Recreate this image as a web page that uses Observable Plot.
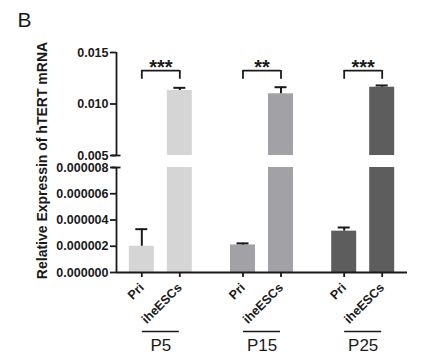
<!DOCTYPE html>
<html><head><meta charset="utf-8">
<script src="https://cdn.jsdelivr.net/npm/d3@7"></script>
<script src="https://cdn.jsdelivr.net/npm/@observablehq/plot@0.6"></script>
<style>body{margin:0;background:#fff}#chart svg{display:block}</style>
</head><body><div id="chart"></div>
<script>
// ---- data ----
const groups = ["P5", "P15", "P25"];
const types = ["Pri", "iheESCs"];
const priMean = [0.0000020, 0.0000021, 0.00000315];
const priErr = [0.0000013, 0.00000012, 0.00000028];
const iheMean = [0.01131, 0.01099, 0.01163];
const iheErr = [0.00026, 0.00064, 0.00017];
const significance = ["***", "**", "***"];
const lowerTicks = [0, 0.000002, 0.000004, 0.000006, 0.000008];
const upperTicks = [0.005, 0.010, 0.015];
const barColors = ["#d5d5d5", "#a2a2a6", "#5d5d5d"];
const yLabel = "Relative Expressin of hTERT mRNA";
const panelLetter = "B";

// axis break
const lowerTop = 0.000008, upperBottom = 0.005, upperTop = 0.015;
// bracket annotation levels (upper panel)
const bracketTop = 0.01325, bracketEnd = 0.0124;

// ---- layout ----
const W = 436, H = 362, mL = 116, mR = 29, mT = 52, mB = 90;
const pInner = 0.2, pOuter = 0.038;
const step = (W - mL - mR) / (groups.length - pInner + 2 * pOuter);
const bw = step * (1 - pInner);
const axisDx = -(step * pOuter + bw / 2);
const sub = 19, barW = 25, capW = 12;
const ink = "#1a1a1a";

const rows = [];
groups.forEach((g, i) => {
  rows.push({group: g, type: types[0], mean: priMean[i], err: priErr[i]});
  rows.push({group: g, type: types[1], mean: iheMean[i], err: iheErr[i]});
});
const grp = groups.map((g, i) => ({group: g, sig: significance[i]}));

function typeMarks(t, dx) {
  const d = rows.filter(r => r.type === t);
  const ins = (bw - barW) / 2, cins = (bw - capW) / 2;
  return [
    Plot.barY(d, {x: "group", y1: 0, y2: r => Math.min(r.mean, lowerTop), fill: "group", insetLeft: ins, insetRight: ins, dx}),
    Plot.barY(d.filter(r => r.mean > upperBottom), {x: "group", y1: upperBottom, y2: "mean", fill: "group", insetLeft: ins, insetRight: ins, dx}),
    Plot.ruleX(d, {x: "group", y1: "mean", y2: r => r.mean + r.err, stroke: ink, strokeWidth: 2, dx}),
    Plot.tickY(d, {x: "group", y: r => r.mean + r.err, stroke: ink, strokeWidth: 2, insetLeft: cins, insetRight: cins, dx}),
    Plot.axisX({ticks: groups, tickFormat: () => "", tickSize: 5, strokeWidth: 1.8, stroke: ink, dx, label: null}),
    Plot.text(groups, {x: g => g, y: () => 0, text: () => t, rotate: -45, textAnchor: "end", dx: dx, dy: 13, fontSize: 12.5, fontWeight: "bold", fill: ink})
  ];
}

const bIns = (bw - 2 * sub) / 2, uIns = (bw - 37) / 2, brkIns = (bw - 9) / 2;

const chart = Plot.plot({
  width: W, height: H,
  marginLeft: mL, marginRight: mR, marginTop: mT, marginBottom: mB,
  style: {fontFamily: "Liberation Sans, Arial, sans-serif", fontSize: "12.5px", color: ink, background: "#fff"},
  x: {type: "band", domain: groups, paddingInner: pInner, paddingOuter: pOuter, round: false, axis: null},
  y: {type: "linear", domain: [0, lowerTop, upperBottom, upperTop], range: [H - mB, 167, 155, mT], axis: null},
  color: {domain: groups, range: barColors},
  marks: [
    ...typeMarks(types[0], -sub),
    ...typeMarks(types[1], sub),
    // axes lines
    Plot.ruleY([0], {stroke: ink, strokeWidth: 1.8}),
    Plot.ruleX([groups[0]], {x: d => d, y1: 0, y2: lowerTop, stroke: ink, strokeWidth: 1.8, dx: axisDx}),
    Plot.ruleX([groups[0]], {x: d => d, y1: upperBottom, y2: upperTop, stroke: ink, strokeWidth: 1.8, dx: axisDx}),
    Plot.tickY([lowerTop, upperBottom], {x: () => groups[0], y: d => d, stroke: ink, strokeWidth: 1.8, insetLeft: brkIns, insetRight: brkIns, dx: axisDx}),
    Plot.axisY({ticks: lowerTicks, tickFormat: d3.format(".6f"), tickSize: 6, tickPadding: 2, strokeWidth: 1.8, stroke: ink, fontWeight: "bold", fontSize: 12.5, label: null}),
    Plot.axisY({ticks: upperTicks, tickFormat: d3.format(".3f"), tickSize: 6, tickPadding: 2, strokeWidth: 1.8, stroke: ink, fontWeight: "bold", fontSize: 12.5, label: null}),
    // significance brackets
    Plot.tickY(grp, {x: "group", y: () => bracketTop, stroke: ink, strokeWidth: 1.8, insetLeft: bIns, insetRight: bIns}),
    Plot.ruleX(grp, {x: "group", y1: () => bracketEnd, y2: () => bracketTop, stroke: ink, strokeWidth: 1.8, dx: -sub}),
    Plot.ruleX(grp, {x: "group", y1: () => bracketEnd, y2: () => bracketTop, stroke: ink, strokeWidth: 1.8, dx: sub}),
    Plot.text(grp, {x: "group", y: () => bracketTop, text: "sig", fontSize: 20, fontWeight: "bold", fill: ink, lineAnchor: "bottom", dy: 3}),
    // group underlines and labels
    Plot.tickY(grp, {x: "group", y: () => 0, dy: 59, stroke: ink, strokeWidth: 1.6, insetLeft: uIns, insetRight: uIns}),
    Plot.text(grp, {x: "group", y: () => 0, text: "group", dy: 73, fontSize: 17, fill: ink}),
    // y label and panel letter
    Plot.text([yLabel], {frameAnchor: "left", textAnchor: "middle", lineAnchor: "middle", rotate: -90, dx: -74, dy: -2, fontSize: 14, fontWeight: "bold", fill: ink}),
    Plot.text([panelLetter], {frameAnchor: "top-left", textAnchor: "start", lineAnchor: "top", dx: -99, dy: -40, fontSize: 21, fill: ink})
  ]
});
document.getElementById("chart").append(chart);
</script>
</body></html>
